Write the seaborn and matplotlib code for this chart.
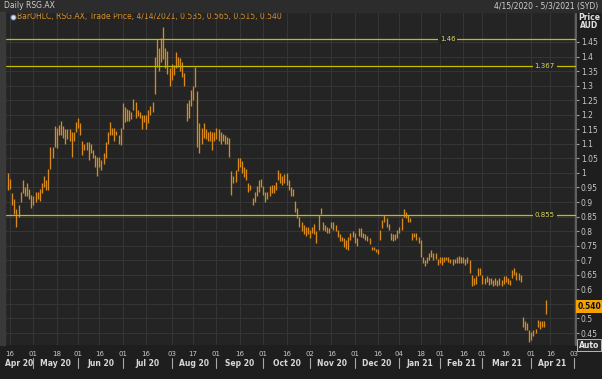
import pandas as pd
import numpy as np
import matplotlib
matplotlib.use('Agg')
import matplotlib.pyplot as plt
import seaborn as sns
from matplotlib.transforms import blended_transform_factory
from matplotlib.patches import Rectangle

# daily high / low, one list per month (RSG.AX, AUD)
apr20_low = [0.94, 0.945, 0.89, 0.86, 0.815, 0.85, 0.90, 0.93, 0.92, 0.92, 0.91, 0.88]
apr20_high = [1.00, 0.98, 0.93, 0.91, 0.875, 0.89, 0.935, 0.975, 0.95, 0.965, 0.945, 0.925]
may20_low = [0.89, 0.90, 0.91, 0.905, 0.93, 0.95, 0.94, 0.94, 1.015, 1.05, 1.09, 1.085, 1.13, 1.13, 1.12, 1.10, 1.115, 1.11, 1.055, 1.11, 1.14]
may20_high = [0.92, 0.935, 0.935, 0.945, 0.965, 0.99, 0.975, 1.015, 1.09, 1.09, 1.16, 1.155, 1.165, 1.18, 1.16, 1.15, 1.15, 1.15, 1.14, 1.14, 1.175]
jun20_low = [1.155, 1.13, 1.06, 1.08, 1.08, 1.045, 1.07, 1.05, 1.02, 0.99, 1.02, 1.01, 1.03, 1.05, 1.10, 1.13, 1.13, 1.11, 1.13, 1.10, 1.095]
jun20_high = [1.19, 1.17, 1.11, 1.10, 1.105, 1.105, 1.10, 1.08, 1.06, 1.055, 1.055, 1.045, 1.07, 1.105, 1.14, 1.175, 1.155, 1.155, 1.145, 1.13, 1.155]
jul20_low = [1.15, 1.175, 1.18, 1.18, 1.185, 1.215, 1.19, 1.195, 1.19, 1.15, 1.175, 1.15, 1.17, 1.20, 1.21, 1.27, 1.365, 1.35, 1.38, 1.39, 1.36, 1.34, 1.30]
jul20_high = [1.24, 1.225, 1.22, 1.215, 1.21, 1.255, 1.245, 1.215, 1.21, 1.20, 1.20, 1.20, 1.215, 1.23, 1.245, 1.40, 1.46, 1.43, 1.465, 1.50, 1.43, 1.42, 1.36]
aug20_low = [1.32, 1.335, 1.36, 1.365, 1.35, 1.33, 1.30, 1.18, 1.19, 1.23, 1.25, 1.295, 1.09, 1.07, 1.10, 1.12, 1.115, 1.11, 1.11, 1.08, 1.11]
aug20_high = [1.375, 1.37, 1.415, 1.40, 1.395, 1.38, 1.345, 1.24, 1.25, 1.285, 1.30, 1.365, 1.28, 1.17, 1.155, 1.17, 1.15, 1.14, 1.145, 1.14, 1.14]
sep20_low = [1.115, 1.11, 1.10, 1.11, 1.10, 1.10, 1.055, 0.925, 0.965, 0.97, 1.005, 1.02, 1.00, 0.985, 0.975, 0.935, 0.94, 0.89, 0.90, 0.92, 0.935, 0.95]
sep20_high = [1.155, 1.15, 1.14, 1.135, 1.13, 1.125, 1.12, 1.005, 0.99, 1.01, 1.05, 1.05, 1.04, 1.02, 1.015, 0.965, 0.96, 0.915, 0.935, 0.955, 0.975, 0.98]
oct20_low = [0.925, 0.90, 0.91, 0.92, 0.93, 0.93, 0.94, 0.975, 0.965, 0.96, 0.965, 0.96, 0.94, 0.92, 0.92, 0.865, 0.845, 0.815, 0.80, 0.79, 0.785, 0.79]
oct20_high = [0.955, 0.935, 0.935, 0.955, 0.96, 0.96, 0.97, 1.01, 1.00, 0.99, 0.995, 1.00, 0.975, 0.95, 0.945, 0.905, 0.88, 0.85, 0.83, 0.82, 0.815, 0.815]
nov20_low = [0.775, 0.795, 0.79, 0.76, 0.805, 0.86, 0.805, 0.80, 0.795, 0.795, 0.81, 0.805, 0.80, 0.78, 0.765, 0.765, 0.745, 0.74, 0.735, 0.77, 0.78]
nov20_high = [0.805, 0.815, 0.825, 0.80, 0.855, 0.88, 0.83, 0.82, 0.815, 0.81, 0.83, 0.83, 0.82, 0.805, 0.79, 0.78, 0.775, 0.77, 0.78, 0.795, 0.80]
dec20_low = [0.76, 0.75, 0.785, 0.78, 0.775, 0.77, 0.765, 0.755, 0.735, 0.735, 0.73, 0.72, 0.77, 0.81, 0.83, 0.815, 0.805, 0.77, 0.765, 0.77, 0.775]
dec20_high = [0.795, 0.775, 0.81, 0.81, 0.795, 0.79, 0.785, 0.775, 0.745, 0.745, 0.74, 0.74, 0.805, 0.84, 0.855, 0.845, 0.825, 0.795, 0.79, 0.79, 0.805]
jan21_low = [0.795, 0.805, 0.85, 0.845, 0.83, 0.83, 0.77, 0.78, 0.77, 0.76, 0.71, 0.69, 0.68, 0.69, 0.70, 0.71, 0.70, 0.705, 0.685]
jan21_high = [0.815, 0.845, 0.875, 0.865, 0.855, 0.845, 0.795, 0.795, 0.795, 0.78, 0.77, 0.71, 0.70, 0.71, 0.725, 0.735, 0.725, 0.725, 0.705]
feb21_low = [0.69, 0.685, 0.695, 0.70, 0.695, 0.69, 0.685, 0.69, 0.69, 0.69, 0.69, 0.69, 0.685, 0.69, 0.655, 0.61, 0.615, 0.62, 0.645, 0.65]
feb21_high = [0.71, 0.71, 0.71, 0.71, 0.71, 0.705, 0.705, 0.705, 0.71, 0.715, 0.71, 0.71, 0.705, 0.71, 0.70, 0.65, 0.64, 0.645, 0.675, 0.675]
mar21_low = [0.62, 0.62, 0.625, 0.615, 0.62, 0.61, 0.615, 0.61, 0.615, 0.61, 0.62, 0.625, 0.62, 0.615, 0.64, 0.65, 0.632, 0.632, 0.625, 0.47, 0.46, 0.46, 0.42]
mar21_high = [0.65, 0.64, 0.645, 0.64, 0.64, 0.632, 0.64, 0.632, 0.64, 0.632, 0.645, 0.645, 0.64, 0.632, 0.665, 0.675, 0.66, 0.655, 0.65, 0.505, 0.49, 0.485, 0.46]
apr21_low = [0.425, 0.44, 0.45, 0.47, 0.465, 0.47, 0.47, 0.515]
apr21_high = [0.455, 0.46, 0.465, 0.495, 0.49, 0.49, 0.49, 0.565]

# horizontal study lines
levels = [1.46, 1.367, 0.855]
level_labels = ['1.46', '1.367', '0.855']

# ASX holidays inside the window
holidays = ['2020-06-08', '2020-12-25', '2020-12-28', '2021-01-01', '2021-01-26', '2021-04-02', '2021-04-05']

tick_dates = ['2020-04-16', '2020-05-01', '2020-05-18', '2020-06-01', '2020-06-16', '2020-07-01',
              '2020-07-16', '2020-08-03', '2020-08-17', '2020-09-01', '2020-09-16', '2020-10-01',
              '2020-10-16', '2020-11-02', '2020-11-16', '2020-12-01', '2020-12-16', '2021-01-04',
              '2021-01-18', '2021-02-01', '2021-02-16', '2021-03-01', '2021-03-16', '2021-04-01',
              '2021-04-16', '2021-05-03']
month_starts = ['2020-05-01', '2020-06-01', '2020-07-01', '2020-08-03', '2020-09-01', '2020-10-01',
                '2020-11-02', '2020-12-01', '2021-01-04', '2021-02-01', '2021-03-01', '2021-04-01',
                '2021-05-03']
month_labels = ['Apr 20', 'May 20', 'Jun 20', 'Jul 20', 'Aug 20', 'Sep 20', 'Oct 20', 'Nov 20',
                'Dec 20', 'Jan 21', 'Feb 21', 'Mar 21', 'Apr 21']
y_ticks = [0.45, 0.5, 0.55, 0.6, 0.65, 0.7, 0.75, 0.8, 0.85, 0.9, 0.95, 1.0, 1.05, 1.1, 1.15,
           1.2, 1.25, 1.3, 1.35, 1.4, 1.45]
last_price = 0.540

lows = (apr20_low + may20_low + jun20_low + jul20_low + aug20_low + sep20_low + oct20_low
        + nov20_low + dec20_low + jan21_low + feb21_low + mar21_low + apr21_low)
highs = (apr20_high + may20_high + jun20_high + jul20_high + aug20_high + sep20_high + oct20_high
         + nov20_high + dec20_high + jan21_high + feb21_high + mar21_high + apr21_high)

# trading-day axis (gaps for weekends / holidays removed), Apr 16 2020 = 0
days = pd.bdate_range('2020-04-15', '2021-05-03', freq='C', holidays=holidays)
pos = pd.Series(np.arange(len(days)) - 1, index=days)

bars = pd.DataFrame({'pos': pos.values[:len(lows)], 'low': lows, 'high': highs})
bars['bar'] = np.arange(len(bars))
long = bars.melt(id_vars=['pos', 'bar'], value_vars=['low', 'high'], value_name='price')

BG = '#1e1e1e'
PANEL = '#242424'
GRID = '#363636'
TXT = '#c8c8c8'
ORANGE = '#d88a1c'
YEL = '#c4be00'

sns.set_theme(style='dark', rc={'axes.facecolor': PANEL, 'figure.facecolor': BG,
                                'grid.color': GRID, 'axes.edgecolor': '#5a5a5a'})
plt.rcParams['font.family'] = ['DejaVu Sans']

W, H = 602, 379
fig = plt.figure(figsize=(W / 100, H / 100), dpi=100)
ax = fig.add_axes([5 / W, 1 - 345 / H, 571 / W, 333 / H])

# header strip + left border strip
fig.patches.append(Rectangle((0, 1 - 12 / H), 1, 12 / H, transform=fig.transFigure,
                             color='#2c2c2c', zorder=0))
fig.patches.append(Rectangle((0, 1 - 345 / H), 5 / W, 333 / H, transform=fig.transFigure,
                             color='#3a3a3a', zorder=0))

sns.lineplot(data=long, x='pos', y='price', units='bar', estimator=None, color=ORANGE,
             lw=0.95, legend=False, ax=ax, solid_capstyle='butt')

for lv in levels:
    ax.axhline(lv, color=YEL, lw=0.9, zorder=3)
# labels sitting in gaps on the lines
ax.text(205.8, levels[0], level_labels[0], color='#d8d460', fontsize=5, ha='center', va='center',
        zorder=4, bbox=dict(fc=PANEL, ec='none', pad=1.2))
ax.text(256.1, levels[1], level_labels[1], color='#d8d460', fontsize=5, ha='right', va='center',
        zorder=4, bbox=dict(fc=PANEL, ec='none', pad=1.2))
ax.text(256.1, levels[2], level_labels[2], color='#d8d460', fontsize=5, ha='right', va='center',
        zorder=4, bbox=dict(fc=PANEL, ec='none', pad=1.2))

ax.set_xlim(-2.35, 266.0)
ax.set_ylim(0.4088, 1.553)
ax.grid(True, color=GRID, lw=0.7)
ax.set_axisbelow(True)
ax.set_xlabel('')
ax.set_ylabel('')

tick_pos = [pos[pd.Timestamp(d)] for d in tick_dates]
ax.set_xticks(tick_pos, [d[-2:] for d in tick_dates])
ax.tick_params(axis='x', length=0, pad=4.5, labelsize=5, colors=TXT)

# the 0.55 label sits under the last-price tag, so leave it blank
ax.yaxis.tick_right()
ax.set_yticks(y_ticks, ['' if abs(v - 0.55) < 1e-9 else format(round(v, 2), 'g') for v in y_ticks])
ax.tick_params(axis='y', length=2.5, width=0.8, pad=1, labelsize=5.5, colors=TXT,
               color='#a0a0a0', right=True, left=False)

for s in ['left', 'bottom']:
    ax.spines[s].set_visible(False)
ax.spines['right'].set_color('#6a6a6a')
ax.spines['top'].set_color('#484848')

# month separators and month names under the day numbers
blend = blended_transform_factory(ax.transData, ax.transAxes)
starts = [pos[pd.Timestamp(d)] for d in month_starts]
for p in starts:
    ax.plot([p, p], [-0.04, -0.07], transform=blend, color='#a8a8a8', lw=0.8, clip_on=False)
edges = [-2.35] + starts
for lab, a, b in zip(month_labels, edges[:-1], edges[1:]):
    ax.text((a + b) / 2, -0.057, lab, transform=blend, ha='center', va='center',
            fontsize=5.5, fontweight='bold', color='#d8d8d8')

# last price tag on the axis
ax.text(1.0035, last_price, f'{last_price:.3f}',
        transform=blended_transform_factory(ax.transAxes, ax.transData),
        ha='left', va='center', fontsize=5.5, fontweight='bold', color='#111111', zorder=6,
        clip_on=False, bbox=dict(boxstyle='square,pad=0.25', fc='#f5a300', ec='none'))

# titles / legend line
fig.text(4 / W, 1 - 6 / H, 'Daily RSG.AX', ha='left', va='center', fontsize=5.5, color='#cfcfcf')
fig.text(598 / W, 1 - 6 / H, '4/15/2020 - 5/3/2021 (SYD)', ha='right', va='center',
         fontsize=5.5, color='#cfcfcf')
fig.text(589 / W, 1 - 17 / H, 'Price', ha='center', va='center', fontsize=5.5,
         fontweight='bold', color='#e0e0e0')
fig.text(589 / W, 1 - 25 / H, 'AUD', ha='center', va='center', fontsize=5.5,
         fontweight='bold', color='#e0e0e0')
ax.scatter([(13 - 5) / 571], [1 - (16.5 - 12) / 333], transform=ax.transAxes, s=14,
           fc='#d8e0f0', ec='#4a78c0', lw=0.6, zorder=6, clip_on=False)
ax.text((17 - 5) / 571, 1 - (16.5 - 12) / 333,
        'BarOHLC, RSG.AX, Trade Price, 4/14/2021, 0.535, 0.565, 0.515, 0.540',
        transform=ax.transAxes, ha='left', va='center', fontsize=5.5, color='#d9902a')
fig.text(589 / W, 1 - 345 / H, 'Auto', ha='center', va='center', fontsize=5.5,
         fontweight='bold', color='#e8e8e8',
         bbox=dict(boxstyle='square,pad=0.25', fc='#2a2a2a', ec='#b8b8b8', lw=0.7))

fig.savefig('out.png', dpi=100, facecolor=BG)
